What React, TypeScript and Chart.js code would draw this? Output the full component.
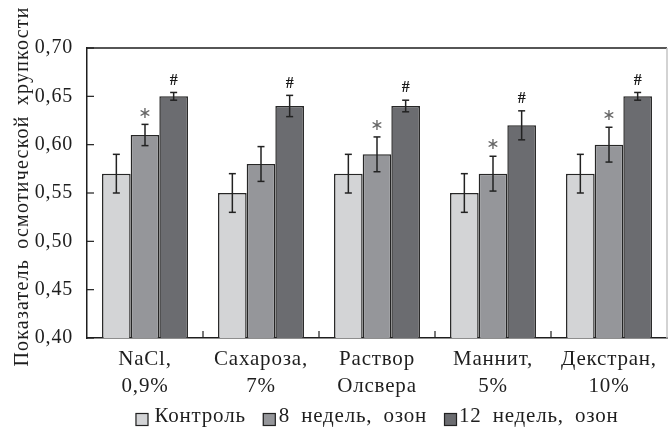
import React, { useEffect, useRef } from 'react';
import { Chart, registerables } from 'chart.js';

Chart.register(...registerables);

const categories: string[][] = [
  ['NaCl,', '0,9%'],
  ['Сахароза,', '7%'],
  ['Раствор', 'Олсвера'],
  ['Маннит,', '5%'],
  ['Декстран,', '10%'],
];
const seriesLabels = ['Контроль', '8 недель, озон', '12 недель, озон'];
const seriesColors = ['#d3d4d6', '#95969a', '#6b6c70'];

const controlValues = [0.57, 0.55, 0.57, 0.55, 0.57];
const controlErrors = [0.02, 0.02, 0.02, 0.02, 0.02];
const week8Values = [0.61, 0.58, 0.59, 0.57, 0.6];
const week8Errors = [0.011, 0.018, 0.018, 0.018, 0.018];
const week12Values = [0.65, 0.64, 0.64, 0.62, 0.65];
const week12Errors = [0.004, 0.011, 0.006, 0.015, 0.004];
const controlMarks = ['', '', '', '', ''];
const week8Marks = ['*', '', '*', '*', '*'];
const week12Marks = ['#', '#', '#', '#', '#'];

const yTicks = [0.4, 0.45, 0.5, 0.55, 0.6, 0.65, 0.7];
const yTitle = 'Показатель осмотической хрупкости';

const SERIF = '"Liberation Serif", "Times New Roman", serif';

const setSpacing = (chart: any) => {
  const ctx = chart.ctx as any;
  if (ctx) {
    ctx.letterSpacing = '0.8px';
    ctx.wordSpacing = '3px';
  }
};

const overlayPlugin = {
  id: 'overlay',
  afterInit: setSpacing,
  beforeUpdate: setSpacing,
  beforeLayout: setSpacing,
  beforeDraw: setSpacing,
  afterDatasetsDraw(chart: any) {
    const ctx = chart.ctx as CanvasRenderingContext2D;
    const { left, right, top, bottom } = chart.chartArea;
    const ys = chart.scales.y;
    const xs = chart.scales.x;
    const line = (x1: number, y1: number, x2: number, y2: number) => {
      ctx.beginPath();
      ctx.moveTo(x1, y1);
      ctx.lineTo(x2, y2);
      ctx.stroke();
    };
    ctx.save();
    // frame
    ctx.lineWidth = 1.5;
    ctx.strokeStyle = '#1e1e1e';
    line(left, top, right, top);
    ctx.strokeStyle = '#c4c4c4';
    line(right, top, right, bottom);
    // inward ticks
    ctx.strokeStyle = '#1e1e1e';
    ctx.lineWidth = 1.2;
    yTicks.forEach((v) => {
      const py = ys.getPixelForValue(v);
      line(left, py, left + 7, py);
    });
    for (let i = 1; i < categories.length; i++) {
      const px = (xs.getPixelForValue(i - 1) + xs.getPixelForValue(i)) / 2;
      line(px, bottom, px, bottom - 7);
    }
    // error bars and marks
    chart.data.datasets.forEach((ds: any, di: number) => {
      const meta = chart.getDatasetMeta(di);
      meta.data.forEach((bar: any, i: number) => {
        const v = ds.data[i];
        const e = ds.errors[i];
        const yt = ys.getPixelForValue(v + e);
        const yb = ys.getPixelForValue(v - e);
        ctx.strokeStyle = '#222';
        ctx.lineWidth = 1.5;
        line(bar.x, yt, bar.x, yb);
        line(bar.x - 3.5, yt, bar.x + 3.5, yt);
        line(bar.x - 3.5, yb, bar.x + 3.5, yb);
        const m = ds.marks[i];
        (ctx as any).letterSpacing = '0px';
        if (m === '*') {
          ctx.fillStyle = '#666';
          ctx.font = '16px "DejaVu Sans", sans-serif';
          ctx.textAlign = 'center';
          ctx.textBaseline = 'middle';
          ctx.fillText('∗', bar.x, yt - 11);
        } else if (m === '#') {
          ctx.fillStyle = '#1a1a1a';
          ctx.font = 'bold 16px ' + SERIF;
          ctx.textAlign = 'center';
          ctx.textBaseline = 'middle';
          ctx.fillText('#', bar.x, yt - 12);
        }
      });
    });
    ctx.restore();
  },
  afterDraw(chart: any) {
    const ctx = chart.ctx as CanvasRenderingContext2D;
    const { left, right, top, bottom } = chart.chartArea;
    // y-axis title
    ctx.save();
    (ctx as any).letterSpacing = '1.2px';
    (ctx as any).wordSpacing = '4px';
    ctx.font = '20px ' + SERIF;
    ctx.fillStyle = '#1e1e1e';
    ctx.translate(28, (top + bottom) / 2 - 6.5);
    ctx.rotate(-Math.PI / 2);
    ctx.textAlign = 'center';
    ctx.textBaseline = 'alphabetic';
    ctx.fillText(yTitle, 0, 0);
    ctx.restore();

    // legend
    ctx.save();
    (ctx as any).letterSpacing = '0.8px';
    (ctx as any).wordSpacing = '5px';
    ctx.font = '21px ' + SERIF;
    const box = 13;
    const gaps = [6, 3, 2];
    const spacing = 17;
    const widths = chart.data.datasets.map((ds: any) => ctx.measureText(ds.label).width);
    let total = 0;
    widths.forEach((w: number, i: number) => {
      total += box + gaps[i] + w + (i < widths.length - 1 ? spacing : 0);
    });
    let x = (left + right) / 2 - total / 2;
    const by = 413;
    chart.data.datasets.forEach((ds: any, i: number) => {
      ctx.fillStyle = ds.backgroundColor;
      ctx.fillRect(x, by, box, box);
      ctx.strokeStyle = '#222';
      ctx.lineWidth = 1.2;
      ctx.strokeRect(x + 0.5, by + 0.5, box - 1, box - 1);
      ctx.fillStyle = '#1e1e1e';
      ctx.textAlign = 'left';
      ctx.textBaseline = 'alphabetic';
      ctx.fillText(ds.label, x + box + gaps[i], 422);
      x += box + gaps[i] + widths[i] + spacing;
    });
    ctx.restore();
  },
};

export default function App() {
  const canvasRef = useRef<HTMLCanvasElement | null>(null);

  useEffect(() => {
    const canvas = canvasRef.current;
    if (!canvas) return;
    const chart = new Chart(canvas, {
      type: 'bar',
      data: {
        labels: categories,
        datasets: [
          {
            label: seriesLabels[0],
            data: controlValues,
            errors: controlErrors,
            marks: controlMarks,
            backgroundColor: seriesColors[0],
            borderColor: '#262626',
            borderWidth: 1.5,
          },
          {
            label: seriesLabels[1],
            data: week8Values,
            errors: week8Errors,
            marks: week8Marks,
            backgroundColor: seriesColors[1],
            borderColor: '#262626',
            borderWidth: 1.5,
          },
          {
            label: seriesLabels[2],
            data: week12Values,
            errors: week12Errors,
            marks: week12Marks,
            backgroundColor: seriesColors[2],
            borderColor: '#262626',
            borderWidth: 1.5,
          },
        ] as any,
      },
      options: {
        responsive: false,
        maintainAspectRatio: false,
        animation: false,
        devicePixelRatio: 1,
        datasets: {
          bar: {
            categoryPercentage: 0.741,
            barPercentage: 1,
          },
        },
        layout: { padding: { top: 48, right: 1, left: 0, bottom: 0 } },
        plugins: {
          legend: { display: false },
          tooltip: { enabled: false },
        },
        scales: {
          x: {
            grid: { display: false, drawTicks: false },
            border: { display: true, color: '#1e1e1e', width: 1.5 },
            ticks: {
              color: '#1e1e1e',
              padding: 8,
              font: { family: SERIF, size: 21, lineHeight: 1.29 },
              maxRotation: 0,
              autoSkip: false,
            },
            afterFit: (scale: any) => {
              scale.height = 89;
            },
          },
          y: {
            min: 0.4,
            max: 0.7,
            grid: { display: false, drawTicks: false },
            border: { display: true, color: '#1e1e1e', width: 1.5 },
            afterBuildTicks: (scale: any) => {
              scale.ticks = yTicks.map((v) => ({ value: v }));
            },
            ticks: {
              color: '#1e1e1e',
              padding: 14,
              font: { family: SERIF, size: 20 },
              callback: (v: any) => Number(v).toFixed(2).replace('.', ','),
            },
            title: { display: false },
            afterFit: (scale: any) => {
              scale.width = 87;
            },
          },
        },
      } as any,
      plugins: [overlayPlugin],
    });
    return () => chart.destroy();
  }, []);

  return (
    <div style={{ position: 'absolute', left: 0, top: 0, width: 668, height: 427, background: '#fff' }}>
      <canvas ref={canvasRef} width={668} height={427} style={{ width: 668, height: 427, display: 'block' }} />
    </div>
  );
}
